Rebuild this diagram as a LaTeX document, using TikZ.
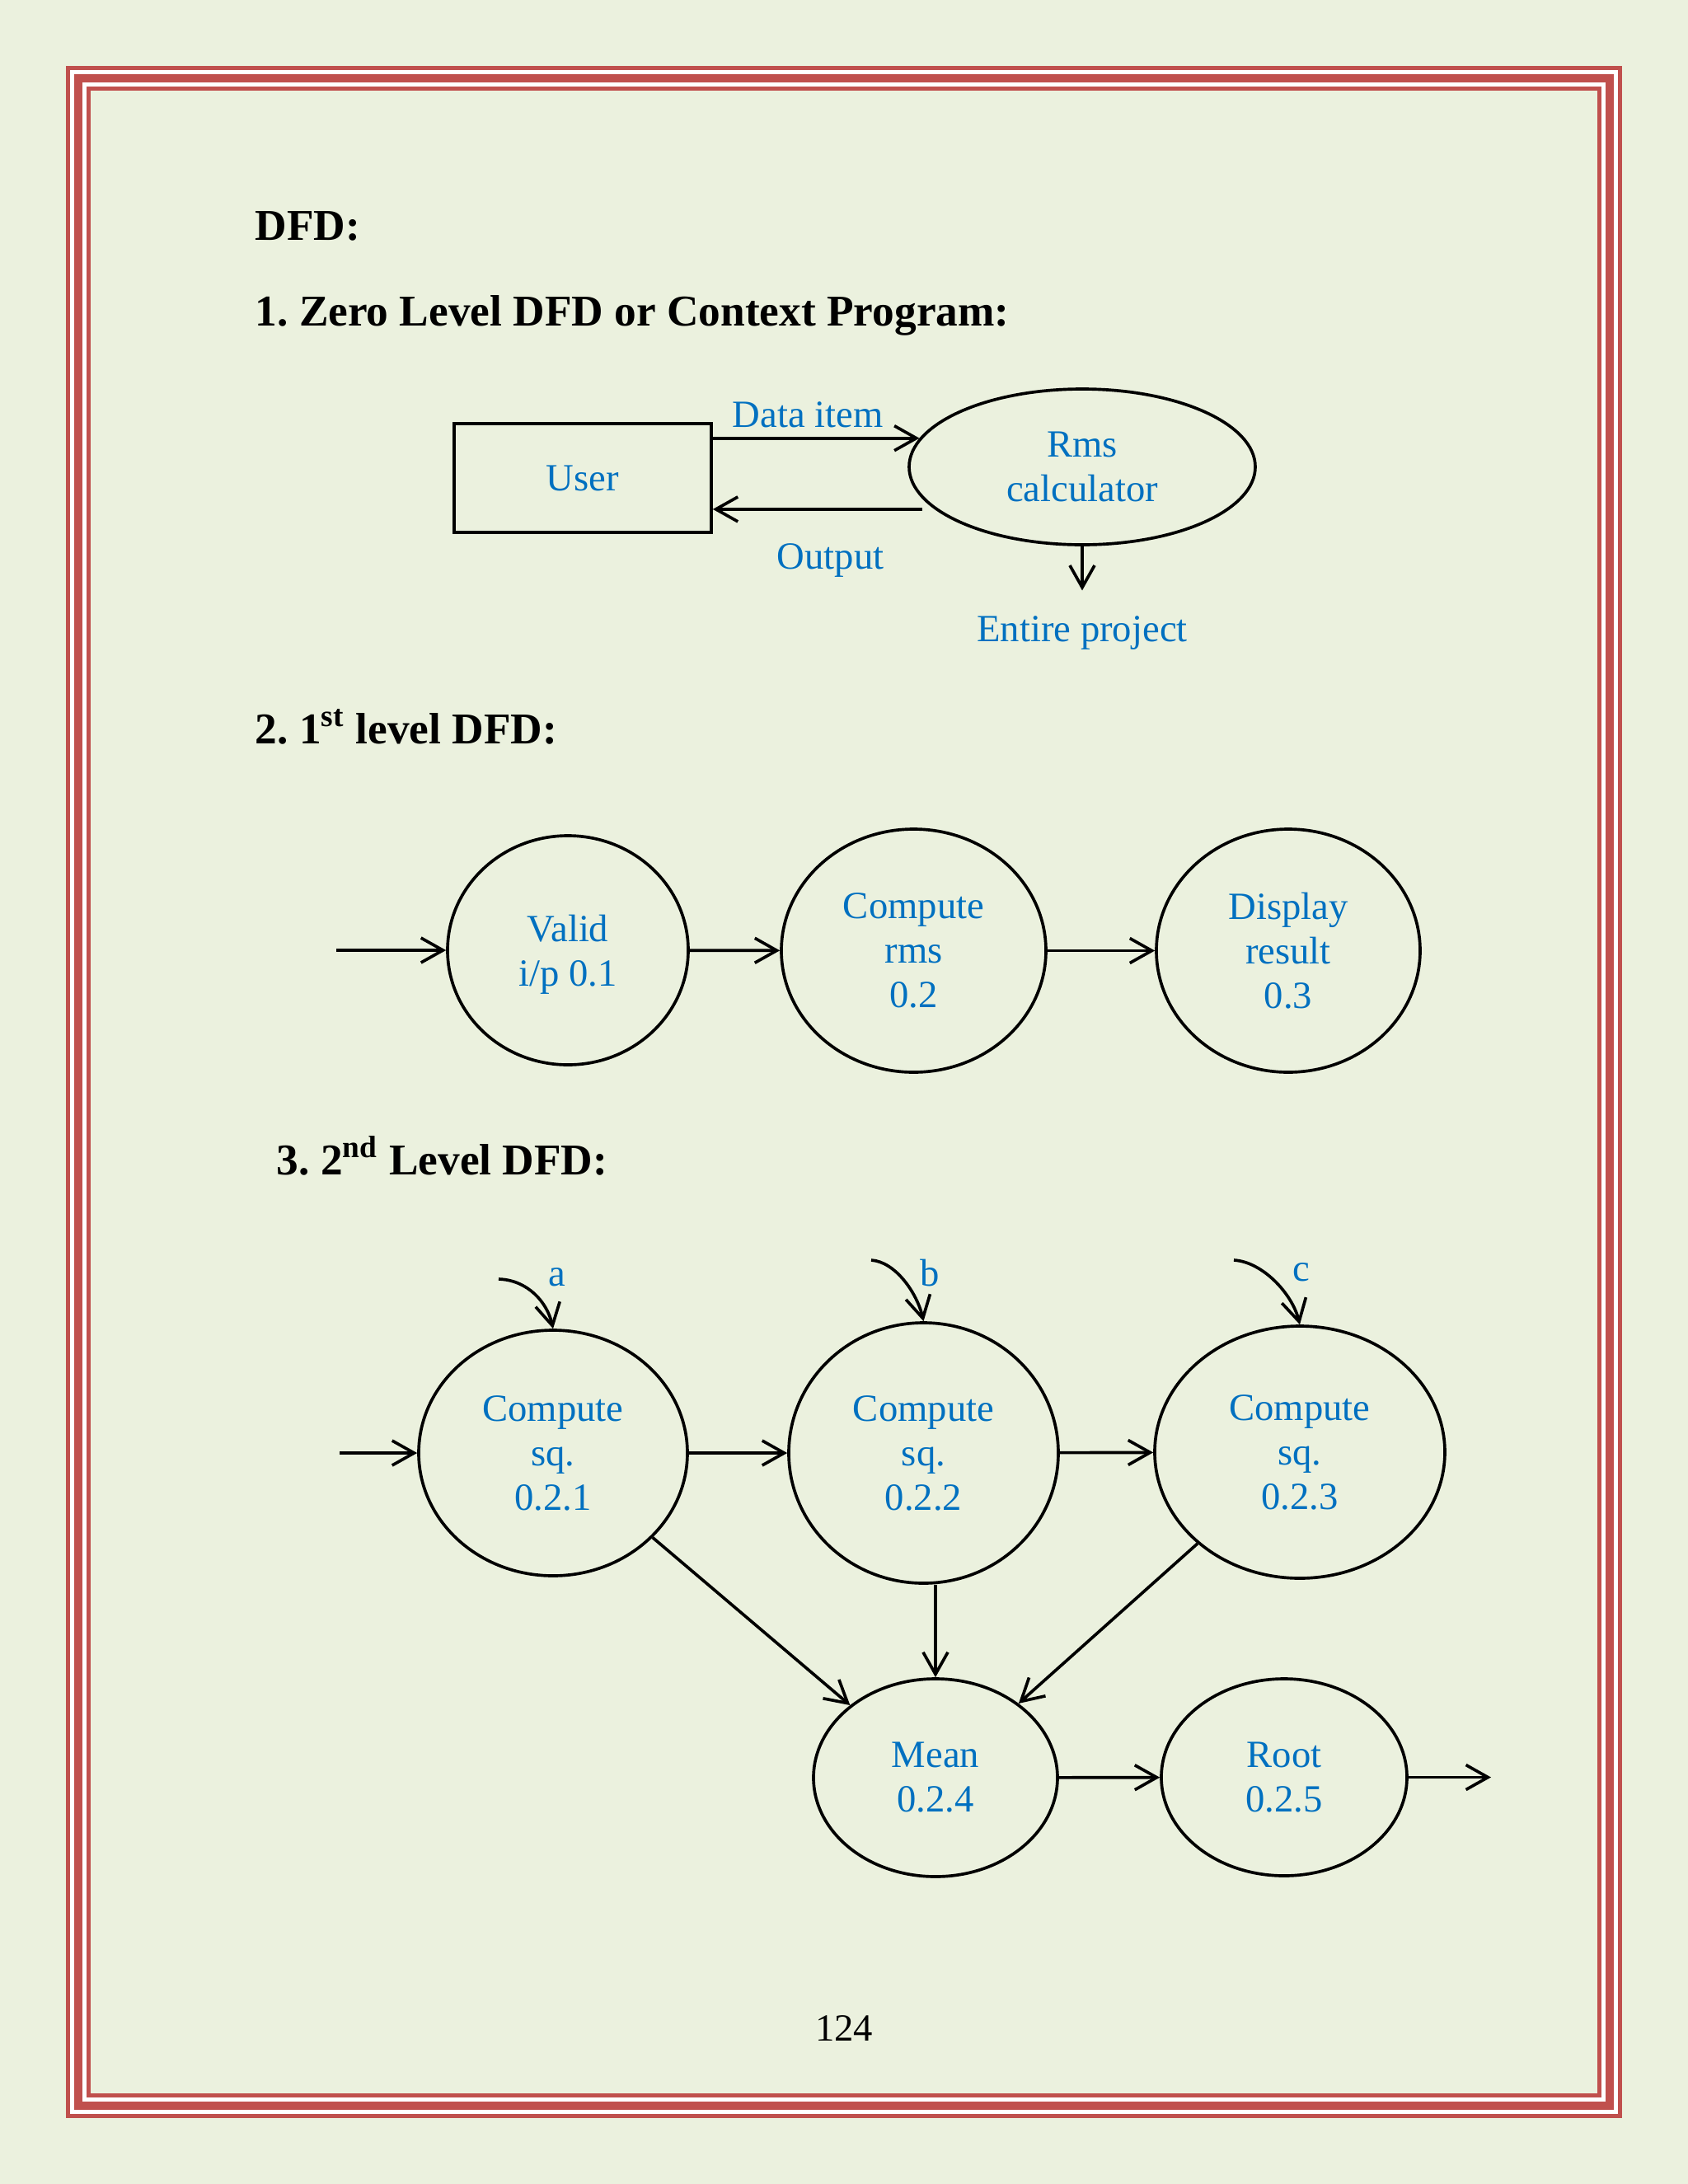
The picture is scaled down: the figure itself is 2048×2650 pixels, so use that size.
\documentclass[tikz,border=0pt]{standalone}
\usepackage{fontspec}
\setmainfont{Liberation Serif}
\usetikzlibrary{shapes.geometric,arrows.meta}
\definecolor{pageBg}{HTML}{EBF1DE}
\definecolor{frameRed}{HTML}{C0504D}
\definecolor{dfdBlue}{HTML}{0070C0}
\newcommand{\lblfont}{\fontsize{14}{16.2}\selectfont}
\newcommand{\headfont}{\fontsize{16}{19}\selectfont\bfseries}
\tikzset{
  proc/.style={ellipse, draw, line width=1.1pt, inner sep=0pt, font=\lblfont, text=dfdBlue, align=center},
  flow/.style={-{Straight Barb[length=8pt,width=9pt]}, line width=1.1pt},
  lbl/.style={font=\lblfont, text=dfdBlue},
  head/.style={font=\headfont, anchor=base west, inner sep=0pt}
}

\begin{document}
\frenchspacing
\begin{tikzpicture}[x=0.3pt, y=-0.3pt]
  \useasboundingbox (0,0) rectangle (2048,2650);
  \fill[pageBg] (0,0) rectangle (2048,2650);
  \fill[frameRed] (80,80) rectangle (1968,2570);
  \fill[white] (85,85) rectangle (1963,2565);
  \fill[frameRed] (90,90) rectangle (1958,2560);
  \fill[white] (100,100) rectangle (1948,2550);
  \fill[frameRed] (105,105) rectangle (1943,2545);
  \fill[pageBg] (110,110) rectangle (1938,2540);

  \node[head] (h0) at (309,291) {DFD:};
  \node[head] (h1) at (309,395) {1. Zero Level DFD or Context Program:};
  \node[head] (h2) at (309,902) {2. 1\textsuperscript{st} level DFD:};
  \node[head] (h3) at (335,1425) {3. 2\textsuperscript{nd} Level DFD:};

  \node[draw, line width=1.1pt, minimum width=93.6pt, minimum height=39.6pt, lbl] (user) at (707,580) {User};
  \node[proc, minimum width=126pt, minimum height=56.7pt] (rms) at (1313,566.5) {Rms\\calculator};
  \node[lbl, anchor=base, inner ysep=9pt] (proj) at (1313,778) {Entire project};
  \draw[flow] (user.east |- rms.170) -- node[lbl, above, xshift=-3pt] {Data item} (rms.170);
  \draw[flow, shorten <=4.5pt] (rms.196) -- node[lbl, below=8.5pt, xshift=2.5pt] {Output} (user.east |- rms.196);
  \draw[flow] (rms.south) -- (proj.north);

  \coordinate (in1) at (408,1153);
  \node[proc, text depth=0pt, minimum width=87.6pt, minimum height=83.4pt] (valid) at (689,1153) {Valid\\i/p 0.1};
  \node[proc, minimum width=96.3pt, minimum height=88.5pt] (crms) at (1108.5,1153.5) {Compute\\rms\\0.2};
  \node[proc, minimum width=96pt, minimum height=88.5pt] (disp) at (1563,1153.5) {Display\\result\\0.3};
  \draw[flow] (in1) -- (valid);
  \draw[flow] (valid) -- (crms);
  \draw[flow] (crms) -- (disp);

  \coordinate (in2) at (412,1763);
  \coordinate (ina) at (605,1552);
  \coordinate (inb) at (1057,1529);
  \coordinate (inc) at (1497,1529);
  \coordinate (out2) at (1809,2156.5);
  \node[proc, minimum width=97.8pt, minimum height=89.4pt] (sqa) at (671,1763) {Compute\\sq.\\0.2.1};
  \node[proc, minimum width=98.1pt, minimum height=94.8pt] (sqb) at (1120.5,1763) {Compute\\sq.\\0.2.2};
  \node[proc, minimum width=105.6pt, minimum height=91.8pt] (sqc) at (1577,1762) {Compute\\sq.\\0.2.3};
  \node[proc, minimum width=88.8pt, minimum height=72pt] (mean) at (1135,2157) {Mean\\0.2.4};
  \node[proc, minimum width=89.4pt, minimum height=71.7pt] (root) at (1558,2156.5) {Root\\0.2.5};
  \node[lbl, anchor=base] (la) at (676,1560) {a};
  \node[lbl, anchor=base] (lb) at (1128,1560) {b};
  \node[lbl, anchor=base] (lc) at (1579,1554) {c};
  \draw[flow] (ina) .. controls (640,1553) and (664,1580) .. (sqa.north);
  \draw[flow] (inb) .. controls (1087,1531) and (1113,1570) .. (sqb.north);
  \draw[flow] (inc) .. controls (1532,1531) and (1568,1570) .. (sqc.north);
  \draw[flow] (in2) -- (sqa);
  \draw[flow] (sqa) -- (sqb);
  \draw[flow] (sqb) -- (sqc);
  \draw[flow] (sqa) -- (mean);
  \draw[flow] (mean.north |- sqb.south) -- (mean.north);
  \draw[flow] (sqc) -- (mean);
  \draw[flow] (mean) -- (root);
  \draw[flow] (root) -- (out2);

  \node[anchor=base, font=\lblfont] (pg) at (1024,2476) {124};
\end{tikzpicture}
\end{document}
